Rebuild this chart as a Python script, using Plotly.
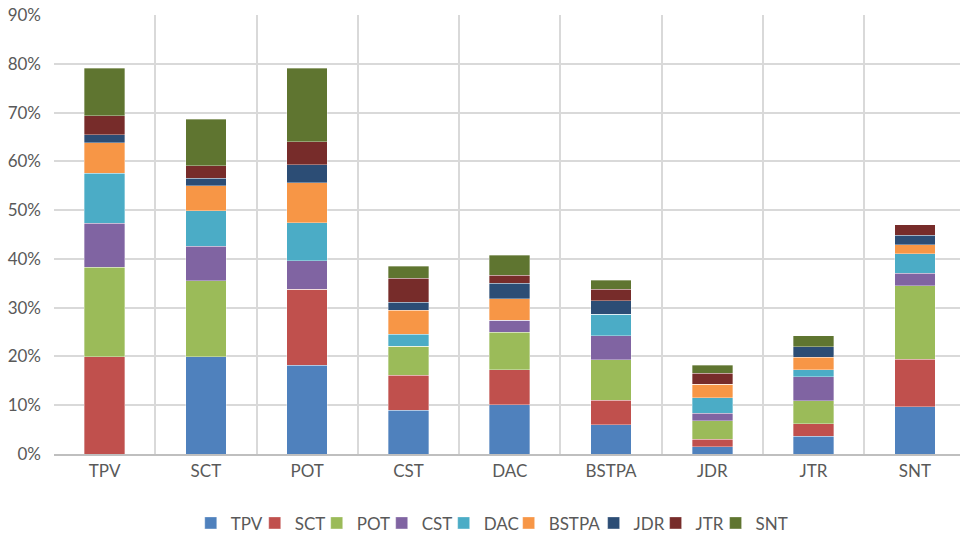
import plotly.graph_objects as go

categories = ["TPV", "SCT", "POT", "CST", "DAC", "BSTPA", "JDR", "JTR", "SNT"]

# values in % for each series (stack component) across categories
TPV   = [0.0, 19.9, 18.2, 9.0, 10.1, 6.0, 1.5, 3.6, 9.7]
SCT   = [19.9, 0.0, 15.6, 7.1, 7.2, 5.0, 1.5, 2.6, 9.7]
POT   = [18.4, 15.6, 0.0, 6.0, 7.7, 8.3, 3.8, 4.7, 15.1]
CST   = [9.0, 7.1, 5.8, 0.0, 2.4, 4.9, 1.6, 4.9, 2.6]
DAC   = [10.3, 7.3, 7.8, 2.4, 0.0, 4.5, 3.1, 1.5, 4.0]
BSTPA = [6.2, 5.1, 8.2, 5.0, 4.4, 0.0, 2.8, 2.5, 1.8]
JDR   = [1.7, 1.5, 3.7, 1.6, 3.2, 2.7, 0.0, 2.2, 1.9]
JTR   = [3.8, 2.6, 4.7, 4.9, 1.6, 2.4, 2.3, 0.0, 2.2]
SNT   = [9.8, 9.5, 15.1, 2.5, 4.1, 1.8, 1.6, 2.2, 0.0]

series = [("TPV", TPV), ("SCT", SCT), ("POT", POT), ("CST", CST), ("DAC", DAC),
          ("BSTPA", BSTPA), ("JDR", JDR), ("JTR", JTR), ("SNT", SNT)]
colors = ["#4F81BD", "#C0504D", "#9BBB59", "#8064A2", "#4BACC6",
          "#F79646", "#2C4D75", "#772C2A", "#5F7530"]

y_ticks = [0, 10, 20, 30, 40, 50, 60, 70, 80, 90]

# layout constants (pixels)
W, H = 960, 536
L, T, B = 53.7, 15, 81.5
plot_w = W - L
legend_px = [209, 273, 335, 400, 462, 527, 612, 674, 734]  # key positions

fig = go.Figure()
legend_layout = {}
for i, ((name, vals), col) in enumerate(zip(series, colors)):
    lname = "legend" if i == 0 else f"legend{i + 1}"
    fig.add_trace(go.Bar(
        x=categories, y=[v / 100 for v in vals], name=name, legend=lname,
        marker=dict(color=col, line=dict(color="rgba(255,255,255,0.45)", width=0.75)),
    ))
    legend_layout[lname] = dict(
        orientation="h", x=(legend_px[i] - 18.5 - L) / plot_w, xanchor="left",
        y=-0.158, yanchor="middle", bgcolor="rgba(0,0,0,0)", borderwidth=0,
        font=dict(size=17, color="#595959"), itemwidth=30, itemclick=False,
    )

font_family = "Lato, 'Open Sans', sans-serif"
fs = 17
fig.update_layout(
    barmode="stack",
    bargap=0.6,
    width=W, height=H,
    margin=dict(l=L, r=0, t=T, b=B, autoexpand=False),
    plot_bgcolor="white", paper_bgcolor="white",
    font=dict(family=font_family, size=fs, color="#595959"),
    showlegend=True,
    **legend_layout,
)
fig.update_xaxes(
    type="category", range=[-0.5, 8.446], automargin=False,
    tickson="boundaries", showgrid=True, gridcolor="#d9d9d9", gridwidth=1.5,
    showline=True, linecolor="#bfbfbf", linewidth=2,
    ticks="", ticklabelstandoff=1, tickfont=dict(size=fs, color="#595959"),
)
fig.update_yaxes(
    range=[0, 0.9], tickvals=[t / 100 for t in y_ticks], automargin=False,
    ticktext=[f"{t}%" for t in y_ticks],
    showgrid=True, gridcolor="#d9d9d9", gridwidth=1.5, zeroline=False,
    showline=False, ticks="", ticklabelstandoff=12,
    tickfont=dict(size=fs, color="#595959"),
)

fig.write_html("out.html",
               config={"displayModeBar": False},
               post_script="document.body.style.margin='0px';document.body.style.overflow='hidden';")
